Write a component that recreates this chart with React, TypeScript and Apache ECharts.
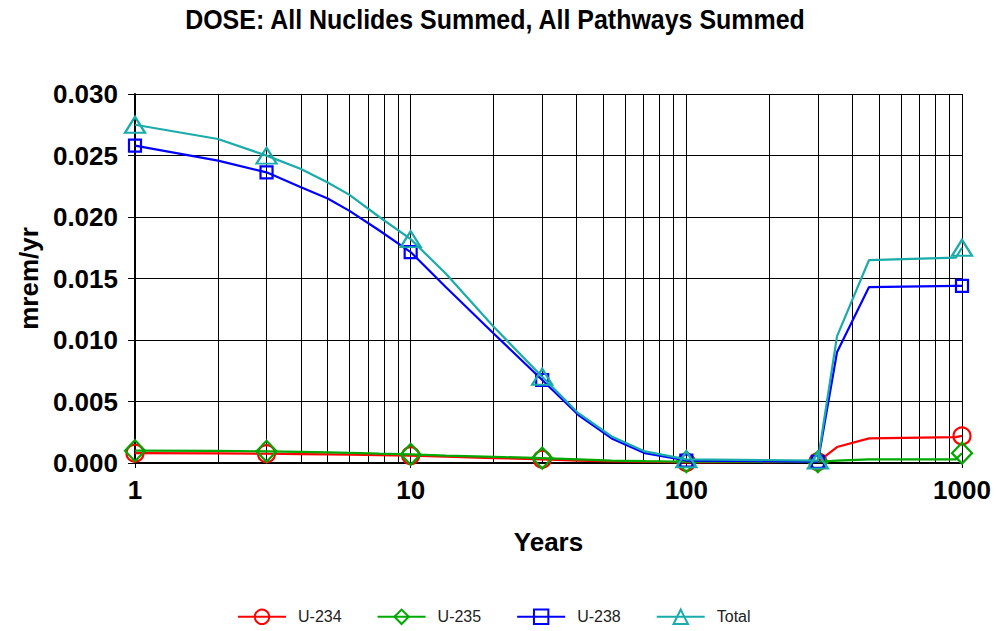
import React, { useEffect, useRef } from 'react';
import * as echarts from 'echarts';

// Time points (years)
const years = [1, 2, 3, 4, 5, 6, 7.7, 10, 13.4, 20, 30, 40.6, 53.6, 70.8, 100, 300, 352, 460, 950, 1000];
// Years at which markers are drawn
const markerYears = [1, 3, 10, 30, 100, 300, 1000];

const u234 = [0.0008, 0.00078, 0.00075, 0.00072, 0.0007, 0.00068, 0.00064, 0.0006, 0.00052, 0.0004, 0.0003, 0.0002, 0.00014, 0.0001, 0.00005, 0.0001, 0.0013, 0.002, 0.0021, 0.0022];
const u235 = [0.001, 0.00098, 0.00095, 0.0009, 0.00086, 0.00082, 0.00076, 0.0007, 0.0006, 0.0005, 0.0004, 0.0003, 0.0002, 0.00015, 0.0001, 0.0001, 0.0002, 0.0003, 0.0003, 0.0008];
const u238 = [0.0258, 0.02458, 0.02363, 0.02242, 0.0215, 0.0205, 0.0189, 0.01715, 0.01431, 0.01053, 0.00675, 0.0039, 0.002, 0.0008, 0.0002, 0.0001, 0.009, 0.0143, 0.0144, 0.0144];
const total = [0.0275, 0.02634, 0.02499, 0.0239, 0.0228, 0.0218, 0.02, 0.0182, 0.0154, 0.01107, 0.00702, 0.00405, 0.00216, 0.00094, 0.0003, 0.0002, 0.0103, 0.0165, 0.0167, 0.0175];

const seriesNames = ['U-234', 'U-235', 'U-238', 'Total'];
const minorYears = [2, 3, 4, 5, 6, 7, 8, 9, 20, 30, 40, 50, 60, 70, 80, 90, 200, 300, 400, 500, 600, 700, 800, 900];
const referenceLevel = 0.0004;
const titleText = 'DOSE: All Nuclides Summed, All Pathways Summed';

const FONT = "'Liberation Sans', Arial, sans-serif";

function buildData(vals: number[], symbol: string) {
  return years.map((x, i) => ({
    value: [x, vals[i]],
    symbol: markerYears.includes(x) ? symbol : 'none',
  }));
}

function makeSeries(name: string, vals: number[], color: string, symbol: string, size: any, z: number) {
  return {
    name,
    type: 'line',
    data: buildData(vals, symbol),
    symbol,
    symbolSize: size,
    showSymbol: true,
    smooth: false,
    z,
    lineStyle: { color, width: 2.2 },
    itemStyle: { color: 'rgba(255,255,255,0)', borderColor: color, borderWidth: 2.2 },
  };
}

export default function App() {
  const ref = useRef<HTMLDivElement>(null);
  useEffect(() => {
    if (!ref.current) return;
    const chart = echarts.init(ref.current, null, { renderer: 'svg' });
    const option: any = {
      animation: false,
      backgroundColor: '#fff',
      graphic: [
        {
          type: 'text',
          x: 495,
          y: 6,
          scaleX: 0.925,
          style: {
            text: titleText,
            fontFamily: FONT,
            fontWeight: 'bold',
            fontSize: 27,
            fill: '#000',
            textAlign: 'center',
            textVerticalAlign: 'top',
          },
        },
      ],
      grid: { left: 135, right: 38, top: 94, bottom: 168, containLabel: false },
      legend: {
        data: seriesNames,
        bottom: 1,
        left: 232,
        itemWidth: 48,
        itemHeight: 18,
        itemGap: 35,
        textStyle: { fontFamily: FONT, fontSize: 16, color: '#222', padding: [0, 0, 0, 7] },
      },
      xAxis: {
        type: 'log',
        logBase: 10,
        min: 1,
        max: 1000,
        name: 'Years',
        nameLocation: 'middle',
        nameGap: 66,
        nameTextStyle: { fontFamily: FONT, fontWeight: 'bold', fontSize: 26, color: '#000' },
        axisLine: { show: true, onZero: false, lineStyle: { color: '#000', width: 2 } },
        axisTick: { show: true, length: 5, lineStyle: { color: '#000' } },
        axisLabel: {
          fontFamily: FONT,
          fontWeight: 'bold',
          fontSize: 26,
          color: '#000',
          margin: 14,
          formatter: (v: number) => String(Math.round(v)),
        },
        splitLine: { show: true, lineStyle: { color: '#000', width: 1 } },
      },
      yAxis: {
        type: 'value',
        min: 0,
        max: 0.03,
        interval: 0.005,
        name: 'mrem/yr',
        nameLocation: 'middle',
        nameGap: 90,
        nameRotate: 90,
        nameTextStyle: { fontFamily: FONT, fontWeight: 'bold', fontSize: 26, color: '#000' },
        axisLine: { show: true, onZero: false, lineStyle: { color: '#000', width: 2 } },
        axisTick: { show: true, length: 7, lineStyle: { color: '#000' } },
        axisLabel: {
          fontFamily: FONT,
          fontWeight: 'bold',
          fontSize: 26,
          color: '#000',
          margin: 17,
          formatter: (v: number) => v.toFixed(3),
        },
        splitLine: { show: true, lineStyle: { color: '#000', width: 1 } },
      },
      series: [
        {
          name: 'grid-minor',
          type: 'line',
          data: [],
          silent: true,
          z: 1,
          markLine: {
            silent: true,
            z: 1,
            symbol: ['none', 'none'],
            label: { show: false },
            lineStyle: { color: '#000', width: 1, type: 'solid' },
            data: [...minorYears.map((v) => ({ xAxis: v })), { yAxis: referenceLevel }],
          },
        },
        makeSeries('U-234', u234, '#ff0000', 'circle', 17, 3),
        makeSeries('U-235', u235, '#00a800', 'diamond', [20, 21], 4),
        makeSeries('U-238', u238, '#0000ff', 'rect', 12, 5),
        makeSeries('Total', total, '#1aabab', 'triangle', [20, 16], 6),
      ],
    };
    chart.setOption(option);
    return () => chart.dispose();
  }, []);
  return <div ref={ref} style={{ position: 'fixed', left: 0, top: 0, width: 1000, height: 631 }} />;
}
